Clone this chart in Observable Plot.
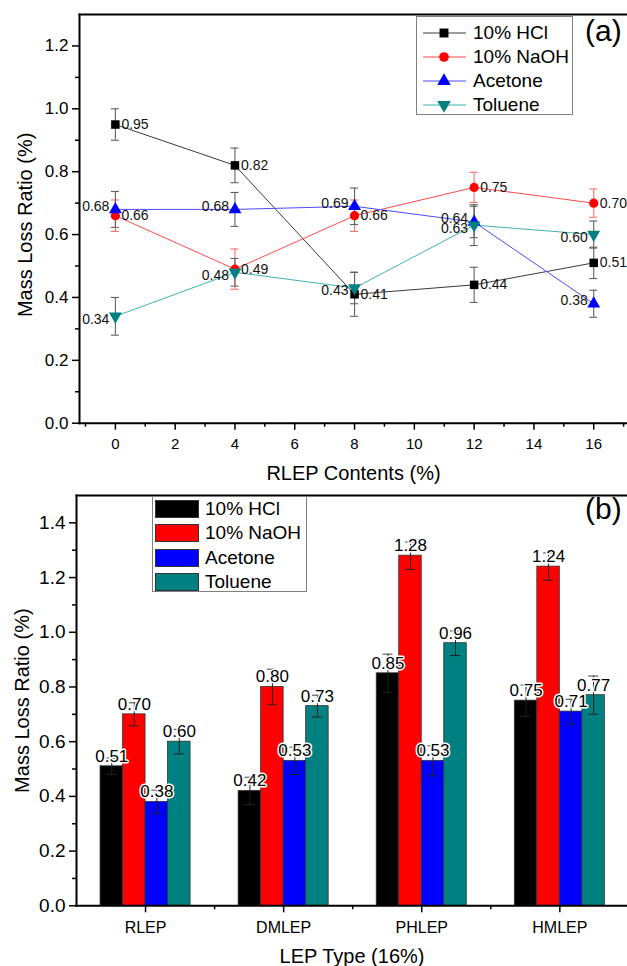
<!DOCTYPE html>
<html>
<head>
<meta charset="utf-8">
<script src="https://cdn.jsdelivr.net/npm/d3@7"></script>
<script src="https://cdn.jsdelivr.net/npm/@observablehq/plot@0.6"></script>
<style>
  body { margin: 0; background: #fff; font-family: "Liberation Sans", Arial, sans-serif; }
  #wrap { position: relative; width: 627px; height: 966px; overflow: hidden; }
  #wrap svg { display: block; }
  .legend { position: absolute; background: #fff; border: 1px solid #808080; box-sizing: border-box; }
  .legend .row { position: absolute; left: 0; height: 24px; width: 100%; }
  .legend .row span { position: absolute; font-size: 19px; line-height: 24px; top: 0; color: #000; white-space: nowrap; }
  .legend .row svg { position: absolute; top: 0; left: 0; }
  .panel { position: absolute; font-size: 30px; line-height: 1; color: #000; }
</style>
</head>
<body>
<div id="wrap"></div>
<script>
// ---------- data (panel a) ----------
const contents = [0, 4, 8, 12, 16];
const seriesNames = ["10% HCl", "10% NaOH", "Acetone", "Toluene"];
const hclA = [0.95, 0.82, 0.41, 0.44, 0.51];
const naohA = [0.66, 0.49, 0.66, 0.75, 0.70];
const acetoneA = [0.68, 0.68, 0.69, 0.64, 0.38];
const tolueneA = [0.34, 0.48, 0.43, 0.63, 0.60];
const hclAErr = [0.05, 0.055, 0.07, 0.056, 0.05];
const naohAErr = [0.05, 0.064, 0.05, 0.048, 0.045];
const acetoneAErr = [0.057, 0.054, 0.058, 0.05, 0.043];
const tolueneAErr = [0.06, 0.044, 0.05, 0.065, 0.043];

// ---------- data (panel b) ----------
const lepTypes = ["RLEP", "DMLEP", "PHLEP", "HMLEP"];
const hclB = [0.51, 0.42, 0.85, 0.75];
const naohB = [0.70, 0.80, 1.28, 1.24];
const acetoneB = [0.38, 0.53, 0.53, 0.71];
const tolueneB = [0.60, 0.73, 0.96, 0.77];
const hclBErr = [0.03, 0.05, 0.07, 0.057];
const naohBErr = [0.042, 0.065, 0.05, 0.05];
const acetoneBErr = [0.043, 0.05, 0.055, 0.045];
const tolueneBErr = [0.045, 0.04, 0.045, 0.07];

// ---------- ticks ----------
const xTicksA = [0, 2, 4, 6, 8, 10, 12, 14, 16];
const xMinorA = [-1, 1, 3, 5, 7, 9, 11, 13, 15, 17];
const yTicksA = [0, 0.2, 0.4, 0.6, 0.8, 1.0, 1.2];
const yMinorA = [0.1, 0.3, 0.5, 0.7, 0.9, 1.1];
const xTicksB = [1, 2, 3, 4];
const xMinorB = [1.5, 2.5, 3.5];
const yTicksB = [0, 0.2, 0.4, 0.6, 0.8, 1.0, 1.2, 1.4];
const yMinorB = [0.1, 0.3, 0.5, 0.7, 0.9, 1.1, 1.3];

// ---------- styles ----------
const FONT = "'Liberation Sans', Arial, sans-serif";
const mainColors = ["#000000", "#ff0000", "#0000ff", "#008080"];
const lineColors = ["#3a3a3a", "#ff4a4a", "#4a4aff", "#40b0b0"];
const errColorsA = ["#606060", "#ff7070", "#606060", "#606060"];
const sqrt3 = Math.sqrt(3);
const triangleDown = {
  draw(context, size) {
    const y = Math.sqrt(size / (sqrt3 * 3));
    context.moveTo(0, 2 * y);
    context.lineTo(-sqrt3 * y, -y);
    context.lineTo(sqrt3 * y, -y);
    context.closePath();
  }
};
const symbolsA = ["square", "circle", "triangle", triangleDown];
const radiiA = [4.8, 4.6, 4.8, 4.8];
const labelSide = [1, 1, -1, -1];
const labelDy = [0, 0, -3, 3];

const wrap = document.getElementById("wrap");

// ---------- panel (a) ----------
const valuesA = [hclA, naohA, acetoneA, tolueneA];
const errsA = [hclAErr, naohAErr, acetoneAErr, tolueneAErr];
const seriesA = seriesNames.map((name, s) =>
  contents.map((x, i) => ({series: name, x, y: valuesA[s][i], err: errsA[s][i]}))
);

const marksA = [];
seriesA.forEach((rows, s) => {
  marksA.push(Plot.line(rows, {x: "x", y: "y", stroke: lineColors[s], strokeWidth: 1}));
});
seriesA.forEach((rows, s) => {
  marksA.push(Plot.ruleX(rows, {x: "x", y1: d => d.y - d.err, y2: d => d.y + d.err, stroke: errColorsA[s], strokeWidth: 1.1}));
  marksA.push(Plot.ruleY(rows, {y: d => d.y + d.err, x1: "x", x2: "x", insetLeft: -4, insetRight: -4, stroke: errColorsA[s], strokeWidth: 1.1}));
  marksA.push(Plot.ruleY(rows, {y: d => d.y - d.err, x1: "x", x2: "x", insetLeft: -4, insetRight: -4, stroke: errColorsA[s], strokeWidth: 1.1}));
});
seriesA.forEach((rows, s) => {
  marksA.push(Plot.dot(rows, {x: "x", y: "y", symbol: symbolsA[s], r: radiiA[s], fill: mainColors[s], stroke: "none"}));
});
seriesA.forEach((rows, s) => {
  marksA.push(Plot.text(rows, {
    x: "x", y: "y", text: d => d.y.toFixed(2),
    textAnchor: labelSide[s] > 0 ? "start" : "end",
    dx: labelSide[s] * 6, dy: labelDy[s], fontSize: 14, fill: "#111"
  }));
});

const plotA = Plot.plot({
  width: 627, height: 490,
  marginTop: 14, marginBottom: 67.3, marginLeft: 79, marginRight: 0,
  x: {domain: [-1.2, 17.13]},
  y: {domain: [0, 1.3]},
  style: {fontFamily: FONT, color: "#000", background: "#fff", overflow: "visible"},
  marks: [
    ...marksA,
    Plot.axisX({ticks: xTicksA, tickSize: 7, tickPadding: 8, fontSize: 15, strokeWidth: 1.5, label: null, tickFormat: d => String(d)}),
    Plot.axisX({ticks: xMinorA, tickSize: 4, tickPadding: 0, strokeWidth: 1.5, label: null, tickFormat: () => ""}),
    Plot.axisY({ticks: yTicksA, tickSize: 7, tickPadding: 4, fontSize: 17, strokeWidth: 1.5, label: null, tickFormat: d => d.toFixed(1)}),
    Plot.axisY({ticks: yMinorA, tickSize: 4, tickPadding: 0, strokeWidth: 1.5, label: null, tickFormat: () => ""}),
    Plot.frame({anchor: "bottom", strokeWidth: 2}),
    Plot.frame({anchor: "left", strokeWidth: 2}),
    Plot.frame({anchor: "top", strokeWidth: 2}),
    Plot.text(["Mass Loss Ratio (%)"], {text: d => d, frameAnchor: "left", textAnchor: "middle", lineAnchor: "middle", rotate: -90, dx: -54, dy: 6, fontSize: 20}),
    Plot.text(["RLEP Contents (%)"], {text: d => d, frameAnchor: "bottom", textAnchor: "middle", lineAnchor: "middle", dy: 50, fontSize: 20})
  ]
});
wrap.appendChild(plotA);

// ---------- panel (b) ----------
const valuesB = [hclB, naohB, acetoneB, tolueneB];
const errsB = [hclBErr, naohBErr, acetoneBErr, tolueneBErr];
const barW = 0.163;
const rowsB = [];
lepTypes.forEach((cat, i) => {
  seriesNames.forEach((name, s) => {
    const x1 = (i + 1) + (s - 2) * barW;
    rowsB.push({cat, series: name, x1, x2: x1 + barW, xc: x1 + barW / 2, y: valuesB[s][i], err: errsB[s][i]});
  });
});

const plotB = Plot.plot({
  width: 627, height: 476,
  marginTop: 5, marginBottom: 60.7, marginLeft: 76, marginRight: 0,
  x: {domain: [0.5, 4.49]},
  y: {domain: [0, 1.5]},
  color: {domain: seriesNames, range: mainColors},
  style: {fontFamily: FONT, color: "#000", background: "#fff", overflow: "visible"},
  marks: [
    Plot.rectY(rowsB, {x1: "x1", x2: "x2", y1: 0, y2: "y", fill: "series", stroke: "#333", strokeWidth: 0.8}),
    Plot.ruleX(rowsB, {x: "xc", y1: d => d.y - d.err, y2: d => d.y + d.err, stroke: "#222", strokeWidth: 1}),
    Plot.ruleY(rowsB, {y: d => d.y + d.err, x1: "xc", x2: "xc", insetLeft: -5, insetRight: -5, stroke: "#444", strokeWidth: 1}),
    Plot.ruleY(rowsB, {y: d => d.y - d.err, x1: "xc", x2: "xc", insetLeft: -5, insetRight: -5, stroke: "#222", strokeWidth: 1}),
    Plot.text(rowsB, {x: "xc", y: "y", text: d => d.y.toFixed(2), lineAnchor: "middle", dy: -10, fontSize: 17, fill: "#000", stroke: "#fff", strokeWidth: 3, paintOrder: "stroke"}),
    Plot.axisX({ticks: xTicksB, tickSize: 7, tickPadding: 9, fontSize: 16, strokeWidth: 1.5, label: null, tickFormat: d => lepTypes[d - 1]}),
    Plot.axisX({ticks: xMinorB, tickSize: 4, tickPadding: 0, strokeWidth: 1.5, label: null, tickFormat: () => ""}),
    Plot.axisY({ticks: yTicksB, tickSize: 7, tickPadding: 4, fontSize: 19, strokeWidth: 1.5, label: null, tickFormat: d => d.toFixed(1)}),
    Plot.axisY({ticks: yMinorB, tickSize: 4, tickPadding: 0, strokeWidth: 1.5, label: null, tickFormat: () => ""}),
    Plot.frame({anchor: "bottom", strokeWidth: 2}),
    Plot.frame({anchor: "left", strokeWidth: 2}),
    Plot.frame({anchor: "top", strokeWidth: 2}),
    Plot.text(["Mass Loss Ratio (%)"], {text: d => d, frameAnchor: "left", textAnchor: "middle", lineAnchor: "middle", rotate: -90, dx: -54, fontSize: 20}),
    Plot.text(["LEP Type (16%)"], {text: d => d, frameAnchor: "bottom", textAnchor: "middle", lineAnchor: "middle", dy: 51, fontSize: 20})
  ]
});
wrap.appendChild(plotB);

// ---------- legends ----------
function legendA() {
  const box = document.createElement("div");
  box.className = "legend";
  Object.assign(box.style, {left: "416px", top: "16px", width: "157px", height: "99px"});
  seriesNames.forEach((name, s) => {
    const row = document.createElement("div");
    row.className = "row";
    row.style.top = (4 + s * 24) + "px";
    const ns = "http://www.w3.org/2000/svg";
    const svg = document.createElementNS(ns, "svg");
    svg.setAttribute("width", 56); svg.setAttribute("height", 24);
    const ln = document.createElementNS(ns, "line");
    ln.setAttribute("x1", 6); ln.setAttribute("x2", 49); ln.setAttribute("y1", 12); ln.setAttribute("y2", 12);
    ln.setAttribute("stroke", lineColors[s]); ln.setAttribute("stroke-width", 1);
    svg.appendChild(ln);
    const path = document.createElementNS(ns, "path");
    const sym = typeof symbolsA[s] === "string"
      ? {square: d3.symbolSquare, circle: d3.symbolCircle, triangle: d3.symbolTriangle}[symbolsA[s]]
      : symbolsA[s];
    path.setAttribute("d", d3.symbol(sym, Math.PI * radiiA[s] * radiiA[s] * 1.1)());
    path.setAttribute("transform", "translate(27,12)");
    path.setAttribute("fill", mainColors[s]);
    svg.appendChild(path);
    row.appendChild(svg);
    const t = document.createElement("span");
    t.textContent = name; t.style.left = "56px";
    row.appendChild(t);
    box.appendChild(row);
  });
  wrap.appendChild(box);
}
function legendB() {
  const box = document.createElement("div");
  box.className = "legend";
  Object.assign(box.style, {left: "152px", top: "496px", width: "155px", height: "96px"});
  seriesNames.forEach((name, s) => {
    const row = document.createElement("div");
    row.className = "row";
    row.style.top = (0 + s * 24.3) + "px";
    const sw = document.createElement("div");
    Object.assign(sw.style, {position: "absolute", left: "2px", top: "3px", width: "44px", height: "18px",
      background: mainColors[s], border: "1px solid #333", boxSizing: "border-box"});
    row.appendChild(sw);
    const t = document.createElement("span");
    t.textContent = name; t.style.left = "52px";
    row.appendChild(t);
    box.appendChild(row);
  });
  wrap.appendChild(box);
}
legendA();
legendB();

function panelLabel(txt, top) {
  const d = document.createElement("div");
  d.className = "panel";
  d.textContent = txt;
  Object.assign(d.style, {left: "585px", top: top + "px"});
  wrap.appendChild(d);
}
panelLabel("(a)", 16);
panelLabel("(b)", 494);
</script>
</body>
</html>
